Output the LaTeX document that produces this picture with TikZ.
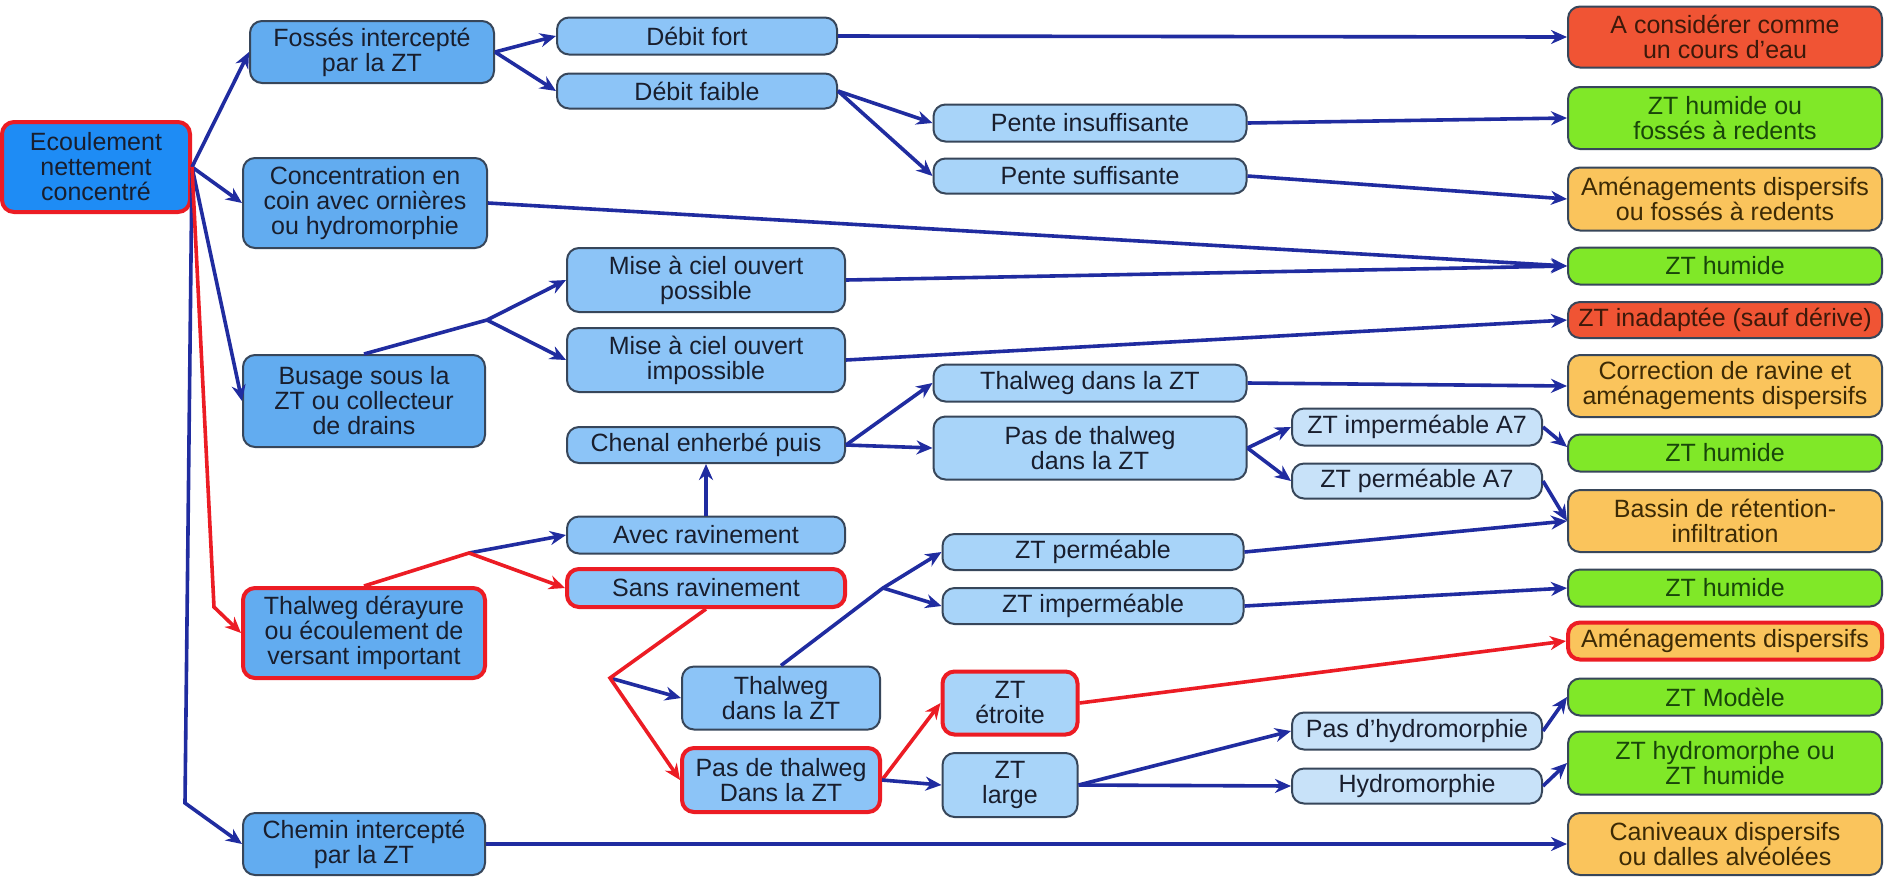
\documentclass[tikz,border=0pt]{standalone}
\usepackage{fontspec}
\setmainfont{Liberation Sans}
\usetikzlibrary{arrows.meta}
\definecolor{flowblue}{RGB}{32,44,160}
\definecolor{hotred}{RGB}{236,28,36}
\definecolor{edgec}{RGB}{55,70,90}
\definecolor{ink}{RGB}{25,30,45}
\definecolor{fillA}{RGB}{30,140,245}
\definecolor{fillB}{RGB}{98,172,240}
\definecolor{fillC}{RGB}{140,196,247}
\definecolor{fillD}{RGB}{168,212,249}
\definecolor{fillE}{RGB}{200,226,249}
\definecolor{resred}{RGB}{240,84,52}
\definecolor{resgreen}{RGB}{128,232,40}
\definecolor{resorange}{RGB}{250,196,92}
\definecolor{inkred}{RGB}{60,25,10}
\definecolor{inkgreen}{RGB}{25,70,10}
\definecolor{inkorange}{RGB}{60,42,5}
\begin{document}
\begin{tikzpicture}[>={Stealth[length=8pt,width=7pt]},x=0.5pt,y=-0.5pt,
  bx/.style={draw=edgec,line width=1pt,rounded corners=6pt,inner sep=1pt,align=center,text=ink,
    font=\fontsize{12.5}{12.5}\selectfont},
  sz/.style 2 args={minimum width=#1pt,minimum height=#2pt},
  lvA/.style={bx,fill=fillA},
  lvB/.style={bx,fill=fillB},
  lvC/.style={bx,fill=fillC},
  lvD/.style={bx,fill=fillD},
  lvE/.style={bx,fill=fillE},
  hot/.style={draw=hotred,line width=2pt},
  rred/.style={bx,fill=resred,text=inkred,sz={157}{#1}},
  rgreen/.style={bx,fill=resgreen,text=inkgreen,sz={157}{#1}},
  rorange/.style={bx,fill=resorange,text=inkorange,sz={157}{#1}},
  fl/.style={->,draw=flowblue,line width=1.8pt},
  flr/.style={->,draw=hotred,line width=1.8pt}]
\fill[white] (0,0) rectangle (1888,885);
\useasboundingbox (0,0) rectangle (1888,885);
\node[lvA,hot,sz={94}{45}] (root) at (96,167) {Ecoulement\\nettement\\concentré};
\node[lvB,sz={122}{31}] (foss) at (372,52) {Fossés intercepté\\par la ZT};
\node[lvB,sz={122}{45}] (conc) at (365,203) {Concentration en\\coin avec ornières\\ou hydromorphie};
\node[lvB,sz={121}{46}] (bus) at (364,401) {Busage sous la\\ZT ou collecteur\\de drains};
\node[lvB,hot,sz={121}{45}] (thd) at (364,633) {Thalweg dérayure\\ou écoulement de\\versant important};
\node[lvB,sz={121}{31}] (chem) at (364,844) {Chemin intercepté\\par la ZT};
\node[lvC,sz={140}{18.5}] (dfort) at (697,36) {Débit fort};
\node[lvC,sz={140}{17.5}] (dfaib) at (697,91) {Débit faible};
\node[lvC,sz={139}{32}] (mpos) at (706,280) {Mise à ciel ouvert\\possible};
\node[lvC,sz={139}{32}] (mimp) at (706,360) {Mise à ciel ouvert\\impossible};
\node[lvC,sz={139}{18}] (chen) at (706,445) {Chenal enherbé puis};
\node[lvC,sz={139}{18.5}] (avec) at (706,535) {Avec ravinement};
\node[lvC,hot,sz={139}{19}] (sans) at (706,588) {Sans ravinement};
\node[lvC,sz={99}{31.5}] (thlow) at (781,698) {Thalweg\\dans la ZT};
\node[lvC,hot,sz={99}{32}] (pdtlow) at (781,780) {Pas de thalweg\\Dans la ZT};
\node[lvD,sz={156.5}{18.5}] (pins) at (1090,123) {Pente insuffisante};
\node[lvD,sz={156.5}{17.5}] (psuf) at (1090,176) {Pente suffisante};
\node[lvD,sz={156.5}{18.5}] (thtop) at (1090,383) {Thalweg dans la ZT};
\node[lvD,sz={156.5}{31.5}] (pdttop) at (1090,448) {Pas de thalweg\\dans la ZT};
\node[lvD,sz={150.5}{18}] (zperm) at (1093,552) {ZT perméable};
\node[lvD,sz={150.5}{18}] (zimp) at (1093,606) {ZT imperméable};
\node[lvD,hot,sz={67.5}{31.5}] (zetr) at (1010,703) {ZT\\étroite};
\node[lvD,sz={67.5}{32}] (zlarg) at (1010,785) {ZT\\large};
\node[lvE,sz={125}{18.5}] (zimpa) at (1417,427) {ZT imperméable A7};
\node[lvE,sz={125}{17.5}] (zperma) at (1417,481) {ZT perméable A7};
\node[lvE,sz={125}{18.5}] (pdhyd) at (1417,731) {Pas d'hydromorphie};
\node[lvE,sz={125}{17.5}] (hydro) at (1417,786) {Hydromorphie};
\node[rred=30.5] (coursdeau) at (1725,37) {A considérer comme\\un cours d'eau};
\node[rgreen=31] (humfos) at (1725,118) {ZT humide ou\\fossés à redents};
\node[rorange=31.5] (amfos) at (1725,199) {Aménagements dispersifs\\ou fossés à redents};
\node[rgreen=18.5] (hum1) at (1725,266) {ZT humide};
\node[rred=18] (inad) at (1725,320) {ZT inadaptée (sauf dérive)};
\node[rorange=31] (corr) at (1725,386) {Correction de ravine et\\aménagements dispersifs};
\node[rgreen=18.5] (hum2) at (1725,453) {ZT humide};
\node[rorange=31] (bassin) at (1725,521) {Bassin de rétention-\\infiltration};
\node[rgreen=18.5] (hum3) at (1725,588) {ZT humide};
\node[rorange=18.5,hot] (amdisp) at (1725,641) {Aménagements dispersifs};
\node[rgreen=18.5] (modele) at (1725,697) {ZT Modèle};
\node[rgreen=31.5] (hydzt) at (1725,763) {ZT hydromorphe ou\\ZT humide};
\node[rorange=31] (caniv) at (1725,844) {Caniveaux dispersifs\\ou dalles alvéolées};
\coordinate (kb) at (185,803);
\coordinate (kt) at (214,607);
\coordinate (kbus) at (487,320);
\coordinate (kthd) at (469,553);
\coordinate (ksans) at (610,678);
\coordinate (kthl) at (883,588);
\draw[fl] (root.east) -- (foss.west);
\draw[fl] (root.east) -- (conc.west);
\draw[fl] (root.east) -- (bus.west);
\draw[fl] (root.east) -- (kb) -- (chem.west);
\draw[flr] (root.east) -- (kt) -- (thd.west);
\draw[fl] (foss.east) -- (dfort.west);
\draw[fl] (foss.east) -- (dfaib.west);
\draw[fl] (dfort.east) -- (coursdeau.west);
\draw[fl] (dfaib.east) -- (pins.west);
\draw[fl] (dfaib.east) -- (psuf.west);
\draw[fl] (pins.east) -- (humfos.west);
\draw[fl] (psuf.east) -- (amfos.west);
\draw[fl] (conc.east) -- (hum1.west);
\draw[fl] (bus.north) -- (kbus) -- (mpos.west);
\draw[fl] (kbus) -- (mimp.west);
\draw[fl] (mpos.east) -- (hum1.west);
\draw[fl] (mimp.east) -- (inad.west);
\draw[fl] (kthd) -- (avec.west);
\draw[flr] (thd.north) -- (kthd) -- (sans.west);
\draw[fl] (avec.north) -- (chen.south);
\draw[fl] (chen.east) -- (thtop.west);
\draw[fl] (chen.east) -- (pdttop.west);
\draw[fl] (thtop.east) -- (corr.west);
\draw[fl] (pdttop.east) -- (zimpa.west);
\draw[fl] (pdttop.east) -- (zperma.west);
\draw[fl] (zimpa.east) -- ([yshift=3pt]hum2.west);
\draw[fl] (zperma.east) -- (bassin.west);
\draw[fl] (zperm.east) -- (bassin.west);
\draw[fl] (zimp.east) -- (hum3.west);
\draw[fl] (ksans) -- (thlow.west);
\draw[flr] (sans.south) -- (ksans) -- (pdtlow.west);
\draw[fl] (thlow.north) -- (kthl) -- (zperm.west);
\draw[fl] (kthl) -- (zimp.west);
\draw[flr] (pdtlow.east) -- (zetr.west);
\draw[fl] (pdtlow.east) -- (zlarg.west);
\draw[flr] (zetr.east) -- (amdisp.west);
\draw[fl] (zlarg.east) -- (pdhyd.west);
\draw[fl] (zlarg.east) -- (hydro.west);
\draw[fl] (pdhyd.east) -- (modele.west);
\draw[fl] (hydro.east) -- (hydzt.west);
\draw[fl] (chem.east) -- (caniv.west);
\end{tikzpicture}
\end{document}
